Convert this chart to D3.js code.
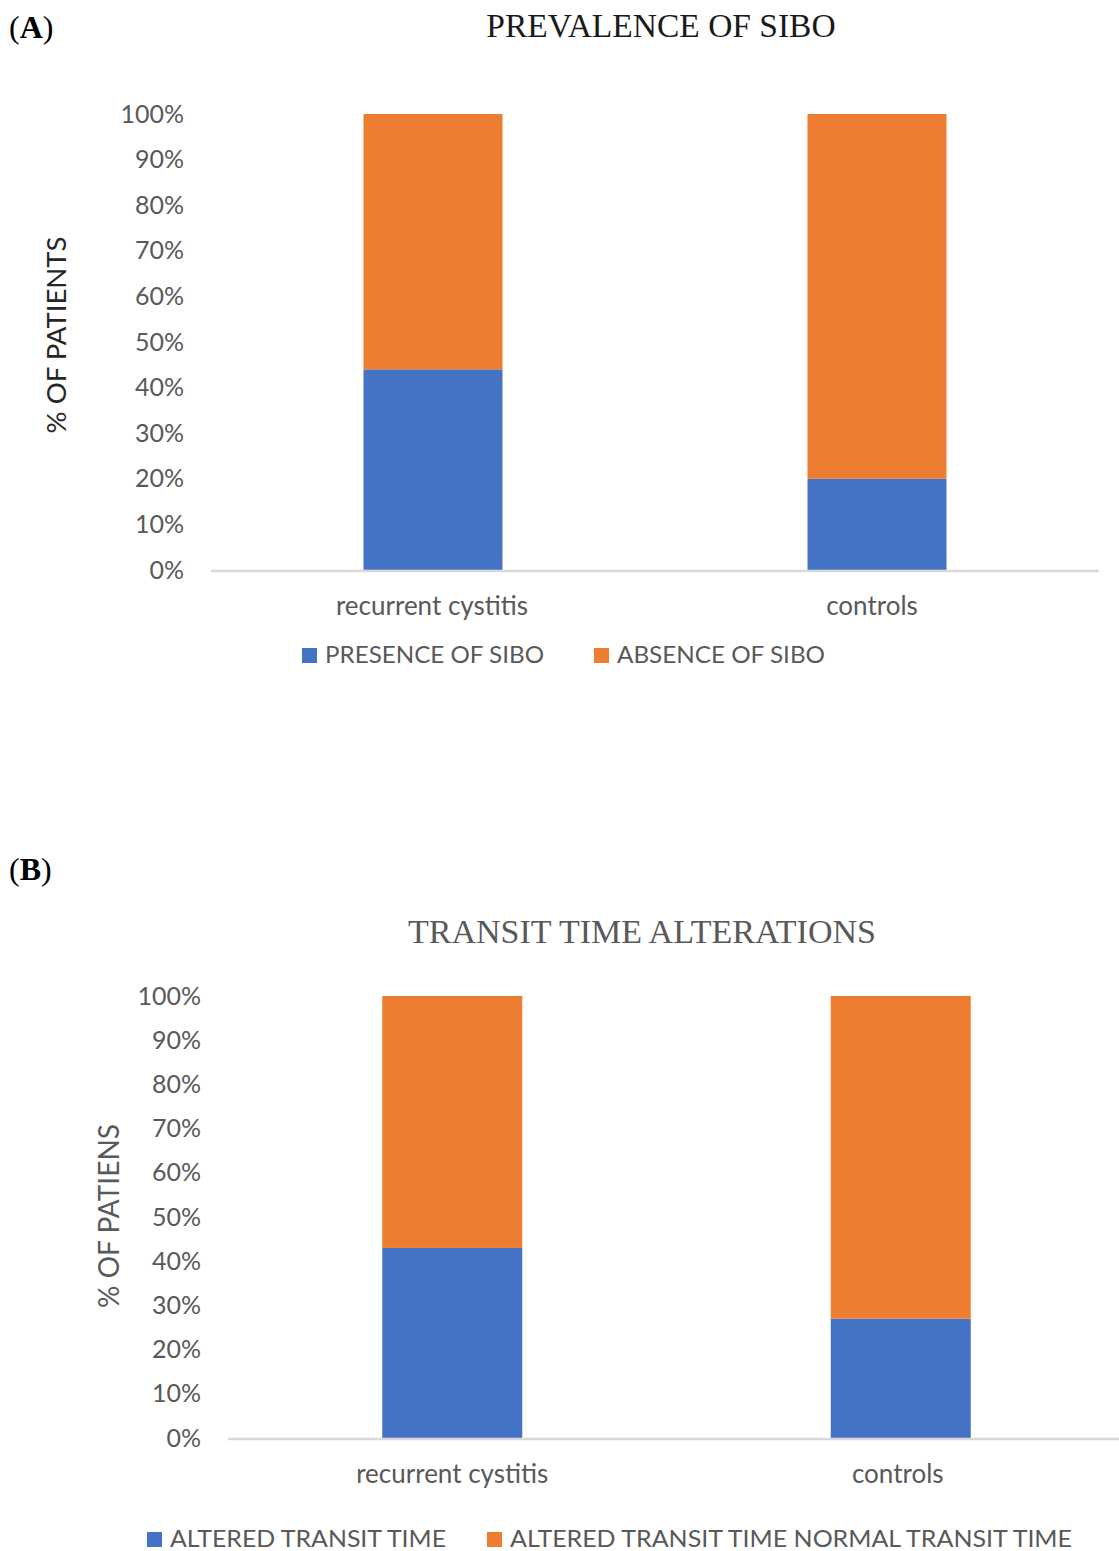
<!DOCTYPE html>
<html><head><meta charset="utf-8">
<script src="https://cdn.jsdelivr.net/npm/d3@7"></script>
<style>body{margin:0;background:#fff}svg{display:block}</style>
</head><body>
<svg id="c" width="1119" height="1551"></svg>
<script>
const categories = ["recurrent cystitis", "controls"];
const sibo_presence = [0.44, 0.20];
const sibo_absence = [0.56, 0.80];
const transit_altered = [0.43, 0.27];
const transit_normal = [0.57, 0.73];
const tickValues = [0,0.1,0.2,0.3,0.4,0.5,0.6,0.7,0.8,0.9,1.0];
const legendA = ["PRESENCE OF SIBO", "ABSENCE OF SIBO"];
const legendB = ["ALTERED TRANSIT TIME", "ALTERED TRANSIT TIME NORMAL TRANSIT TIME"];
const colors = ["#4472c4", "#ed7d31"];

const svg = d3.select("#c");
const sans = "Lato, 'Open Sans', sans-serif";
const serif = "'Liberation Serif', 'DejaVu Serif', serif";

function panel(o){
  const g = svg.append("g");
  const x = d3.scaleBand().domain(categories).range(o.xr).padding(0);
  const y = d3.scaleLinear().domain([0,1]).range(o.yr);
  const bw = o.barW;
  categories.forEach((c,i)=>{
    const cx = x(c) + x.bandwidth()/2;
    const a = o.s1[i], b = o.s2[i];
    g.append("rect").attr("x", cx-bw/2).attr("width", bw)
      .attr("y", y(a)).attr("height", y(0)-y(a)).attr("fill", colors[0]);
    g.append("rect").attr("x", cx-bw/2).attr("width", bw)
      .attr("y", y(a+b)).attr("height", y(a)-y(a+b)).attr("fill", colors[1]);
  });
  g.append("line").attr("x1", o.xr[0]).attr("x2", o.baseEnd)
    .attr("y1", y(0)+1).attr("y2", y(0)+1).attr("stroke", "#d9d9d9").attr("stroke-width", 2.5);
  const yAxis = d3.axisLeft(y).tickValues(tickValues).tickFormat(d3.format(".0%")).tickSize(0).tickPadding(0);
  const ya = g.append("g").attr("transform", `translate(${o.tickX},0)`).call(yAxis);
  ya.select(".domain").remove();
  ya.selectAll("text").attr("font-family", sans).attr("font-size", 25).attr("fill", "#595959");
  categories.forEach((c,i)=>{
    g.append("text").attr("x", x(c)+x.bandwidth()/2 + o.catDx[i]).attr("y", o.catY)
      .attr("text-anchor","middle").attr("font-family", sans).attr("font-size", 26)
      .attr("fill","#595959").text(c);
  });
  g.append("text").attr("transform", `translate(${o.ytX},${o.ytY}) rotate(-90)`)
    .attr("text-anchor","middle").attr("font-family", sans).attr("font-size", o.ytSize)
    .attr("fill", o.ytColor).text(o.ytitle);
  g.append("text").attr("x", o.titleX).attr("y", o.titleY).attr("text-anchor","middle")
    .attr("font-family", serif).attr("font-size", o.titleSize).attr("fill", o.titleColor).text(o.title);
  const pl = g.append("text").attr("x", 9).attr("y", o.plY).attr("font-family", serif)
    .attr("font-size", 32).attr("fill","#000");
  pl.append("tspan").text("(");
  pl.append("tspan").attr("font-weight","bold").text(o.pl);
  pl.append("tspan").text(")");
  o.legend.forEach((t,i)=>{
    const lx = o.legX[i];
    g.append("rect").attr("x", lx).attr("y", o.legY-15).attr("width", 15).attr("height", 15).attr("fill", colors[i]);
    const tx = g.append("text").attr("x", lx+23).attr("y", o.legY).attr("font-family", sans)
      .attr("font-size", 24).attr("fill","#595959").text(t);
    if (o.legLen) tx.attr("textLength", o.legLen[i]).attr("lengthAdjust","spacingAndGlyphs");
  });
}

panel({
  xr:[211,1099], baseEnd:1099, yr:[570,114], barW:139, s1:sibo_presence, s2:sibo_absence,
  tickX:184, catY:615, catDx:[-1,-5], ytitle:"% OF PATIENTS", ytX:66, ytY:335, ytSize:27.5, ytColor:"#262626",
  title:"PREVALENCE OF SIBO", titleX:661, titleY:37, titleSize:33.5, titleColor:"#1a1a1a",
  pl:"A", plY:38, legend:legendA, legX:[302,594], legY:663, legLen:[219,208]
});
panel({
  xr:[228,1125], baseEnd:1119, yr:[1438,996], barW:140, s1:transit_altered, s2:transit_normal,
  tickX:201, catY:1483, catDx:[0,-3], ytitle:"% OF PATIENS", ytX:119, ytY:1216, ytSize:28, ytColor:"#595959",
  title:"TRANSIT TIME ALTERATIONS", titleX:642, titleY:943, titleSize:34, titleColor:"#595959",
  pl:"B", plY:880, legend:legendB, legX:[147,487], legY:1547, legLen:[276,562]
});
</script>
</body></html>
